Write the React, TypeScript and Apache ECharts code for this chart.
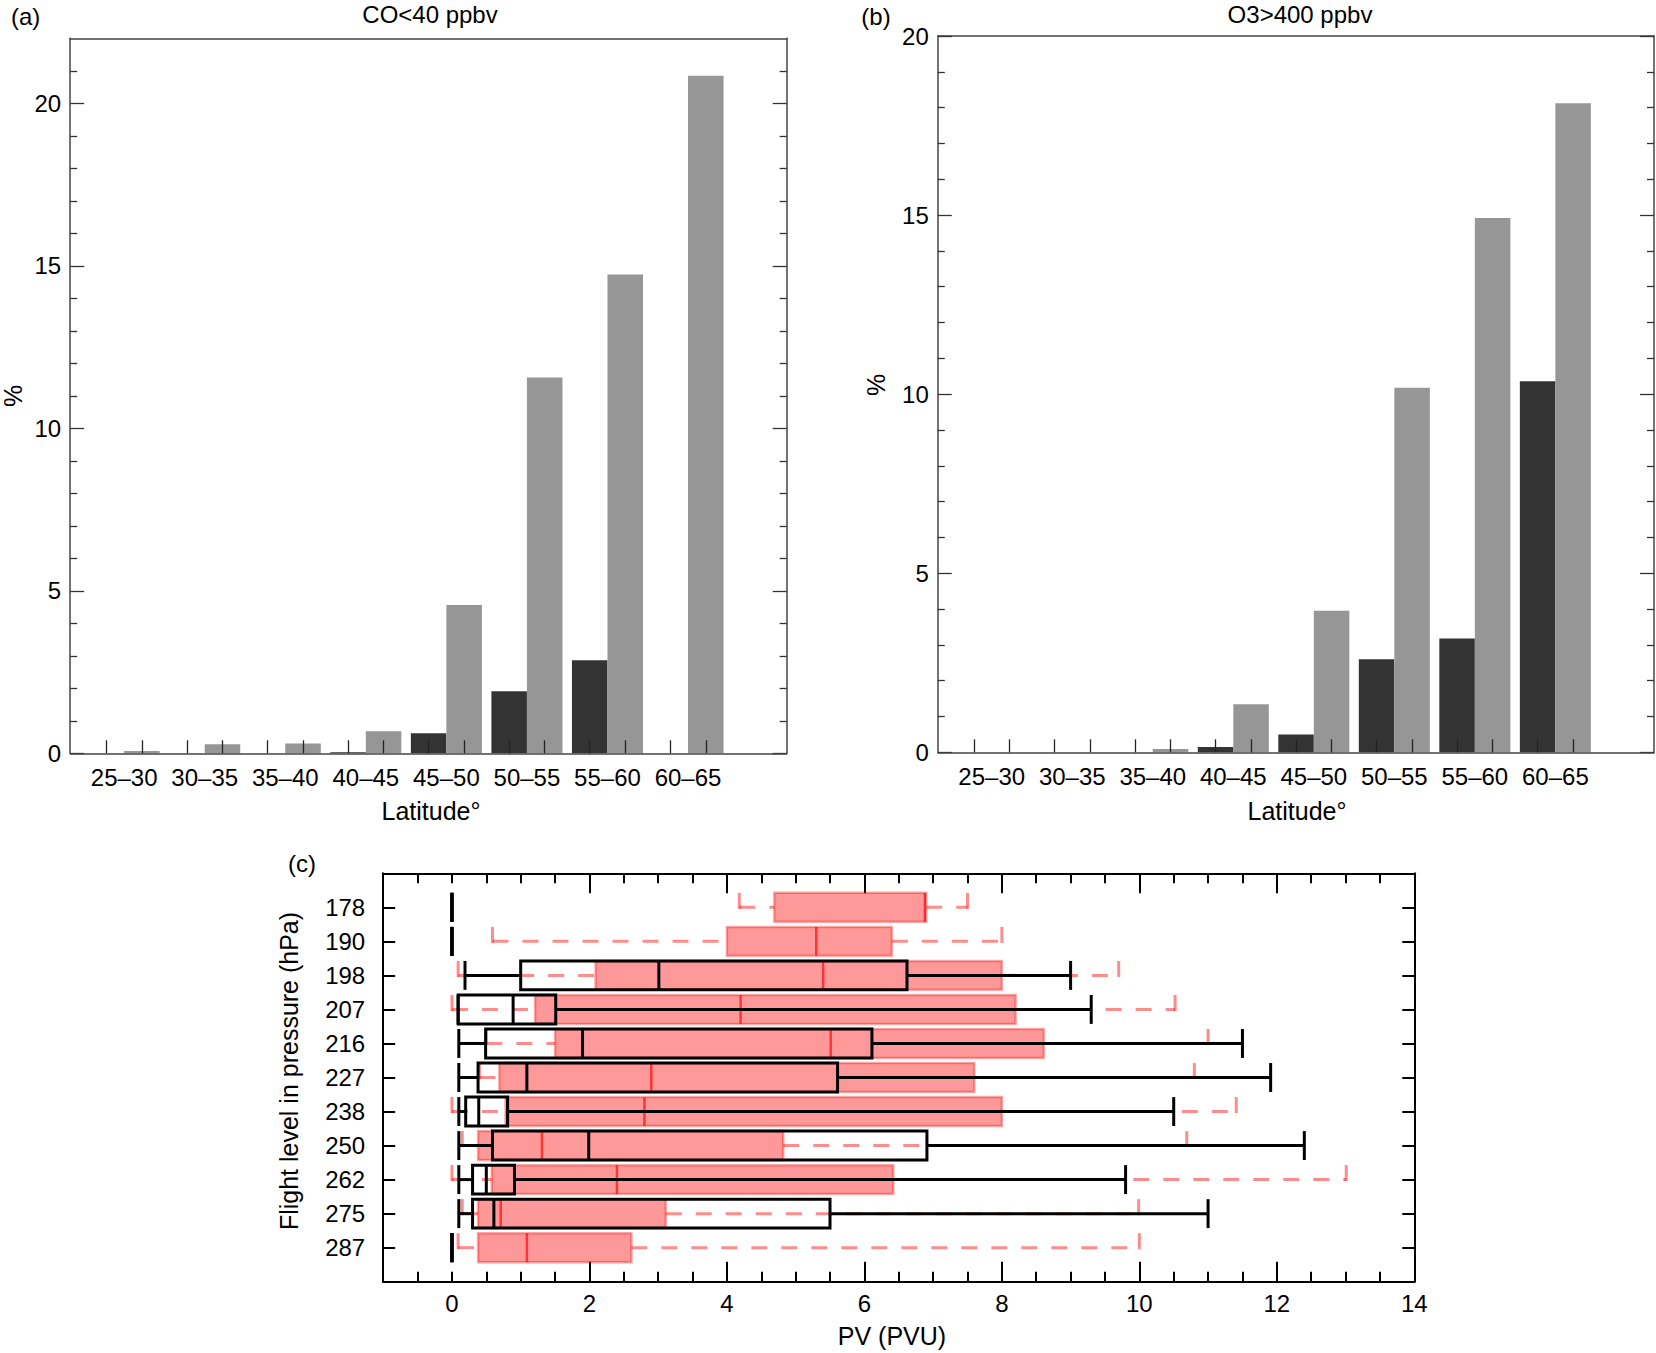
import React, { useEffect, useRef } from "react";
import * as echarts from "echarts";

// ---------- data ----------
const latitudeBands = ["25–30", "30–35", "35–40", "40–45", "45–50", "50–55", "55–60", "60–65"];
const coDark = [0, 0, 0, 0.03, 0.62, 1.91, 2.86, 0];
const coGray = [0.07, 0.28, 0.3, 0.68, 4.56, 11.56, 14.73, 20.85];
const o3Dark = [0, 0, 0, 0.15, 0.5, 2.6, 3.18, 10.36];
const o3Gray = [0, 0, 0.09, 1.34, 3.95, 10.18, 14.92, 18.12];

const pressureLevels = ["178", "190", "198", "207", "216", "227", "238", "250", "262", "275", "287"];
// [min, q1, median, q3, max]
const redStats = [
  [4.18, 4.69, 6.88, 6.9, 7.5],
  [0.59, 4.0, 5.3, 6.4, 8.0],
  [0.09, 2.09, 5.4, 8.0, 9.7],
  [0.0, 1.21, 4.2, 8.2, 10.52],
  [0.5, 1.5, 5.51, 8.61, 11.0],
  [0.4, 0.69, 2.9, 7.6, 10.8],
  [0.0, 0.78, 2.8, 8.0, 11.41],
  [0.15, 0.38, 1.31, 4.82, 10.69],
  [0.0, 0.58, 2.4, 6.42, 13.01],
  [0.15, 0.38, 0.71, 3.11, 9.99],
  [0.09, 0.38, 1.09, 2.61, 10.0],
];
const blackStats = [
  [0, 0, 0, 0, 0],
  [0, 0, 0, 0, 0],
  [0.19, 1.0, 3.01, 6.62, 9.0],
  [0.09, 0.09, 0.89, 1.51, 9.3],
  [0.1, 0.49, 1.9, 6.11, 11.5],
  [0.1, 0.38, 1.09, 5.61, 11.91],
  [0.1, 0.2, 0.39, 0.81, 10.5],
  [0.1, 0.59, 1.99, 6.91, 12.4],
  [0.1, 0.3, 0.5, 0.91, 9.8],
  [0.1, 0.3, 0.61, 5.5, 11.0],
  [0, 0, 0, 0, 0],
];

const pctMajorTicks = [0, 5, 10, 15, 20];
const pvLabelTicks = [0, 2, 4, 6, 8, 10, 12, 14];

// ---------- styling ----------
const FONT = '"Liberation Sans", Arial, Helvetica, sans-serif';
const BAR_W = 0.441;
const X_MIN = -0.67;
const X_MAX = 8.225;
const FRAME = "#444";
const DARK = "#333333";
const GRAY = "#969696";

const range = (a: number, b: number, step: number) => {
  const out: number[] = [];
  for (let v = a; v <= b + 1e-9; v += step) out.push(Math.round(v * 1000) / 1000);
  return out;
};

const App: React.FC = () => {
  const ref = useRef<HTMLDivElement>(null);

  useEffect(() => {
    if (!ref.current) return;
    const chart = echarts.init(ref.current, undefined, { renderer: "svg" });

    const barTickPos = latitudeBands.flatMap((_, i) => [i - BAR_W / 2, i + BAR_W / 2]);
    const catIdx = latitudeBands.map((_, i) => i);

    const barX = (grid: number) => [
      {
        gridIndex: grid,
        type: "value",
        position: "bottom",
        min: X_MIN,
        max: X_MAX,
        z: 5,
        axisLine: { show: true, onZero: false, lineStyle: { color: FRAME, width: 1.5 } },
        axisTick: {
          show: true,
          inside: true,
          length: 13,
          customValues: barTickPos,
          lineStyle: { color: "#222", width: 1.3 },
        },
        axisLabel: {
          show: true,
          customValues: catIdx,
          formatter: (v: number) => latitudeBands[Math.round(v)] ?? "",
          margin: 12,
          fontSize: 24,
          fontFamily: FONT,
          color: "#000",
        },
        splitLine: { show: false },
      },
      {
        gridIndex: grid,
        type: "value",
        position: "top",
        min: X_MIN,
        max: X_MAX,
        axisLine: { show: true, onZero: false, lineStyle: { color: FRAME, width: 1.5 } },
        axisTick: { show: false },
        axisLabel: { show: false },
        splitLine: { show: false },
      },
    ];

    const barY = (grid: number, yMax: number) => {
      const minors = range(1, yMax - 1, 1).filter((v) => v % 5 !== 0);
      const majors = pctMajorTicks.filter((v) => v <= yMax);
      const base = {
        gridIndex: grid,
        type: "value",
        min: 0,
        max: yMax,
        splitLine: { show: false },
      };
      return [
        {
          ...base,
          position: "left",
          axisLine: { show: true, onZero: false, lineStyle: { color: FRAME, width: 1.5 } },
          axisTick: { show: true, inside: true, length: 14, customValues: majors, lineStyle: { color: "#333", width: 1.3 } },
          axisLabel: {
            show: true,
            customValues: majors,
            margin: 9,
            fontSize: 24,
            fontFamily: FONT,
            color: "#000",
          },
        },
        {
          ...base,
          position: "left",
          axisLine: { show: false, onZero: false },
          axisTick: { show: true, inside: true, length: 7, customValues: minors, lineStyle: { color: "#333", width: 1.3 } },
          axisLabel: { show: false },
        },
        {
          ...base,
          position: "right",
          axisLine: { show: true, onZero: false, lineStyle: { color: FRAME, width: 1.5 } },
          axisTick: { show: true, inside: true, length: 14, customValues: majors, lineStyle: { color: "#333", width: 1.3 } },
          axisLabel: { show: false },
        },
        {
          ...base,
          position: "right",
          axisLine: { show: false, onZero: false },
          axisTick: { show: true, inside: true, length: 7, customValues: minors, lineStyle: { color: "#333", width: 1.3 } },
          axisLabel: { show: false },
        },
      ];
    };

    const barRender = (offset: number, color: string) => (_params: any, api: any) => {
      const i = api.value(0);
      const v = api.value(1);
      if (!(v > 0)) return { type: "group", children: [] };
      const p0 = api.coord([i + offset, 0]);
      const p1 = api.coord([i + offset + BAR_W, v]);
      return {
        type: "rect",
        shape: { x: p0[0], y: p1[1], width: p1[0] - p0[0], height: p0[1] - p1[1] },
        style: { fill: color },
      };
    };

    const barSeries = (data: number[], xi: number, yi: number, offset: number, color: string) => ({
      type: "custom",
      xAxisIndex: xi,
      yAxisIndex: yi,
      silent: true,
      z: 2,
      encode: { x: 0, y: 1 },
      data: data.map((v, i) => [i, v]),
      renderItem: barRender(offset, color),
    });

    // ---- panel c ----
    const longTicks = [2, 4, 6, 8, 10, 12];
    const shortTicks = range(-0.5, 13.5, 0.5).filter((v) => !longTicks.includes(v));
    const rowIdx = pressureLevels.map((_, i) => i + 1);

    const pvX = (position: "top" | "bottom") => [
      {
        gridIndex: 2,
        type: "value",
        position,
        min: -1,
        max: 14,
        axisLine: { show: true, onZero: false, lineStyle: { color: "#000", width: 2 } },
        axisTick: { show: true, inside: true, length: 10, customValues: shortTicks, lineStyle: { color: "#000", width: 2 } },
        axisLabel:
          position === "bottom"
            ? { show: true, customValues: pvLabelTicks, margin: 10, fontSize: 24, fontFamily: FONT, color: "#000" }
            : { show: false },
        splitLine: { show: false },
      },
      {
        gridIndex: 2,
        type: "value",
        position,
        min: -1,
        max: 14,
        axisLine: { show: false, onZero: false },
        axisTick: { show: true, inside: true, length: 20, customValues: longTicks, lineStyle: { color: "#000", width: 2 } },
        axisLabel: { show: false },
        splitLine: { show: false },
      },
    ];

    const pvY = (position: "left" | "right") => ({
      gridIndex: 2,
      type: "value",
      position,
      inverse: true,
      min: 0,
      max: 12,
      axisLine: { show: true, onZero: false, lineStyle: { color: "#000", width: 2 } },
      axisTick: { show: true, inside: true, length: 12, customValues: rowIdx, lineStyle: { color: "#000", width: 2 } },
      axisLabel:
        position === "left"
          ? {
              show: true,
              customValues: rowIdx,
              formatter: (v: number) => pressureLevels[Math.round(v) - 1] ?? "",
              margin: 18,
              fontSize: 24,
              fontFamily: FONT,
              color: "#000",
            }
          : { show: false },
      splitLine: { show: false },
    });

    const boxRender = (red: boolean) => (_params: any, api: any) => {
      const y = api.value(0);
      const mn = api.coord([api.value(1), y]);
      const q1 = api.coord([api.value(2), y]);
      const md = api.coord([api.value(3), y]);
      const q3 = api.coord([api.value(4), y]);
      const mx = api.coord([api.value(5), y]);
      const h = Math.abs(api.size([0, 0.85])[1]);
      const cy = mn[1];
      const top = cy - h / 2;
      const bot = cy + h / 2;
      const children: any[] = [];
      if (red) {
        const dash = { stroke: "rgba(255,0,0,0.45)", lineWidth: 3, lineDash: [16, 14], fill: null };
        children.push(
          { type: "line", shape: { x1: mn[0], y1: cy, x2: q1[0], y2: cy }, style: dash },
          { type: "line", shape: { x1: q3[0], y1: cy, x2: mx[0], y2: cy }, style: dash },
          { type: "line", shape: { x1: mn[0], y1: top, x2: mn[0], y2: bot }, style: dash },
          { type: "line", shape: { x1: mx[0], y1: top, x2: mx[0], y2: bot }, style: dash },
          {
            type: "rect",
            shape: { x: q1[0], y: top, width: q3[0] - q1[0], height: h },
            style: { fill: "rgba(255,0,0,0.4)", stroke: "rgba(255,0,0,0.35)", lineWidth: 2.5 },
          },
          {
            type: "line",
            shape: { x1: md[0], y1: top, x2: md[0], y2: bot },
            style: { stroke: "rgba(255,0,0,0.65)", lineWidth: 2.5 },
          }
        );
      } else {
        const solid = { stroke: "#000", lineWidth: 3, fill: null };
        children.push(
          { type: "line", shape: { x1: mn[0], y1: cy, x2: q1[0], y2: cy }, style: solid },
          { type: "line", shape: { x1: q3[0], y1: cy, x2: mx[0], y2: cy }, style: solid },
          { type: "line", shape: { x1: mn[0], y1: top, x2: mn[0], y2: bot }, style: solid },
          { type: "line", shape: { x1: mx[0], y1: top, x2: mx[0], y2: bot }, style: solid },
          {
            type: "rect",
            shape: { x: q1[0], y: top, width: q3[0] - q1[0], height: h },
            style: { fill: "none", stroke: "#000", lineWidth: 3 },
          },
          { type: "line", shape: { x1: md[0], y1: top, x2: md[0], y2: bot }, style: solid }
        );
      }
      return { type: "group", children };
    };

    const boxSeries = (stats: number[][], red: boolean) => ({
      type: "custom",
      xAxisIndex: 4,
      yAxisIndex: 8,
      silent: true,
      z: red ? 2 : 3,
      encode: { x: [1, 2, 3, 4, 5], y: 0 },
      data: stats.map((s, i) => [i + 1, ...s]),
      renderItem: boxRender(red),
    });

    const txt = (text: string, x: number, y: number, size: number, rotate = 0) => ({
      type: "text",
      x,
      y,
      rotation: rotate,
      silent: true,
      style: {
        text,
        fontSize: size,
        fontFamily: FONT,
        fill: "#000",
        align: "center",
        verticalAlign: "middle",
        textAlign: "center",
        textVerticalAlign: "middle",
      },
    });

    const option: any = {
      animation: false,
      backgroundColor: "#fff",
      grid: [
        { left: 70.2, top: 38.3, width: 716.5, height: 715, outerBoundsMode: "none", containLabel: false },
        { left: 937.8, top: 36, width: 716.2, height: 716.3, outerBoundsMode: "none", containLabel: false },
        { left: 383.2, top: 873.3, width: 1031.1, height: 408.4, outerBoundsMode: "none", containLabel: false },
      ],
      xAxis: [...barX(0), ...barX(1), ...pvX("bottom"), ...pvX("top")],
      yAxis: [...barY(0, 22), ...barY(1, 20), pvY("left"), pvY("right")],
      series: [
        barSeries(coDark, 0, 0, -BAR_W, DARK),
        barSeries(coGray, 0, 0, 0, GRAY),
        barSeries(o3Dark, 2, 4, -BAR_W, DARK),
        barSeries(o3Gray, 2, 4, 0, GRAY),
        boxSeries(redStats, true),
        boxSeries(blackStats, false),
      ],
      graphic: [
        txt("(a)", 25.6, 16, 24),
        txt("CO<40 ppbv", 430, 14, 24),
        txt("(b)", 876, 16, 24),
        txt("O3>400 ppbv", 1300, 14, 24),
        txt("%", 12.5, 396, 25, Math.PI / 2),
        txt("%", 876, 385, 25, Math.PI / 2),
        txt("Latitude°", 431, 811, 25),
        txt("Latitude°", 1297, 811, 25),
        txt("(c)", 302, 863, 24),
        txt("Flight level in pressure (hPa)", 289, 1071, 25, Math.PI / 2),
        txt("PV (PVU)", 892, 1336, 25),
      ],
    };

    chart.setOption(option);
    return () => chart.dispose();
  }, []);

  return (
    <div
      ref={ref}
      style={{ position: "absolute", left: 0, top: 0, width: 1656, height: 1353, background: "#fff" }}
    />
  );
};

export default App;
